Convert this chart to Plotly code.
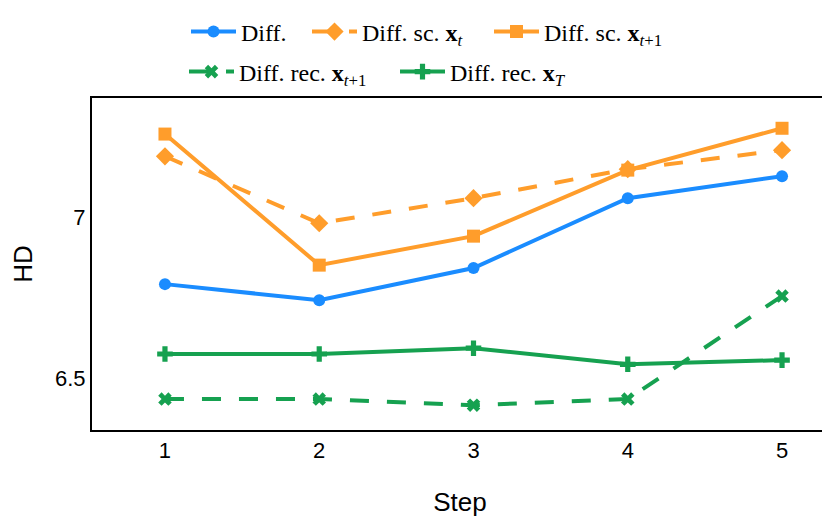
import plotly.graph_objects as go

# data
steps = [1, 2, 3, 4, 5]
diff = [6.792, 6.742, 6.842, 7.059, 7.127]
diff_sc_xt = [7.189, 6.981, 7.059, 7.149, 7.208]
diff_sc_xt1 = [7.258, 6.851, 6.941, 7.146, 7.276]
diff_rec_xt1 = [6.435, 6.435, 6.416, 6.435, 6.755]
diff_rec_xT = [6.575, 6.575, 6.593, 6.543, 6.556]

blue = '#1a8cff'
orange = '#ff9d2b'
green = '#16a150'
dashed = '19px,18px'

# name, values, colour, dash, marker, marker size, legend id, legend x/y (px from top-left)
series = [
    ('Diff.', diff, blue, 'solid', 'circle', 12, 'legend', 178, 24),
    ('Diff. sc. <b>x</b><sub><i>t</i></sub>', diff_sc_xt, orange, dashed, 'diamond', 14, 'legend2', 299, 24),
    ('Diff. sc. <b>x</b><sub><i>t</i>+1</sub>', diff_sc_xt1, orange, 'solid', 'square', 13, 'legend3', 481, 24),
    ('Diff. rec. <b>x</b><sub><i>t</i>+1</sub>', diff_rec_xt1, green, dashed, 'x', 12, 'legend4', 176, 64),
    ('Diff. rec. <b>x</b><sub><i>T</i></sub>', diff_rec_xT, green, 'solid', 'cross', 13, 'legend5', 387, 64),
]

W, H = 830, 520
legfont = dict(family='Liberation Serif, DejaVu Serif, serif', size=24, color='black')

fig = go.Figure()
legends = {}
for name, vals, col, dash, sym, msize, leg, lx, ly in series:
    fig.add_trace(go.Scatter(
        x=steps, y=vals, name=name, mode='lines+markers',
        line=dict(color=col, width=4, dash=dash),
        marker=dict(symbol=sym, size=msize, color=col),
        legend=leg, showlegend=True
    ))
    legends[leg] = dict(orientation='h', xref='container', yref='container',
                        x=lx / W, xanchor='left', y=1 - ly / H, yanchor='middle',
                        font=legfont, bgcolor='rgba(0,0,0,0)', visible=True,
                        itemwidth=45)

fig.update_layout(
    width=W, height=H, showlegend=True,
    plot_bgcolor='white', paper_bgcolor='white',
    margin=dict(l=84, r=10, t=90, b=98, autoexpand=False),
    font=dict(family='Liberation Sans, Arial, sans-serif', size=22, color='black'),
    xaxis=dict(range=[0.527, 5.298], tickvals=steps, showgrid=False, zeroline=False,
               showline=True, linecolor='black', linewidth=2, mirror=True, ticks='',
               automargin=True,
               title=dict(text='Step', font=dict(size=26), standoff=30)),
    yaxis=dict(range=[6.339, 7.370], tickvals=[6.5, 7], ticktext=['6.5', '7'],
               showgrid=False, zeroline=False, showline=True, linecolor='black',
               linewidth=2, mirror=True, ticks='', automargin=True,
               title=dict(text='HD', font=dict(size=26), standoff=24)),
    **legends
)

fig.write_html('out.html')
